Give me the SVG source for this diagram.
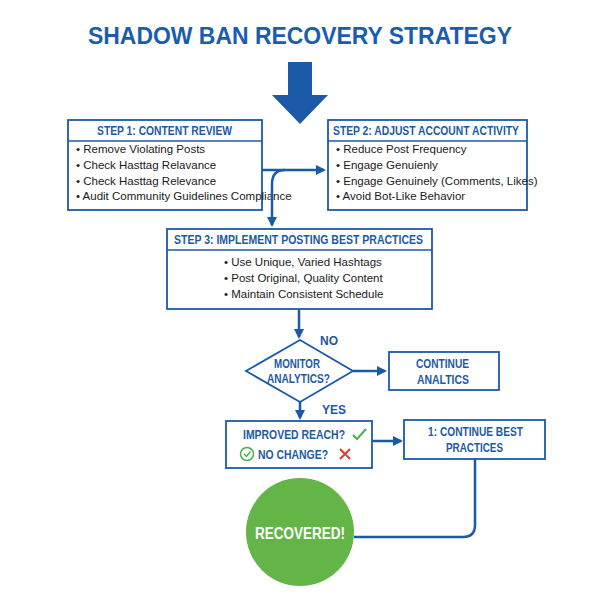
<svg xmlns="http://www.w3.org/2000/svg" width="600" height="600" viewBox="0 0 600 600">
<defs>
<style>
text{font-family:"Liberation Sans","Open Sans",sans-serif;fill:#1b5aa8}
.h{font-weight:bold;font-size:12px}
.b{font-size:11.5px;fill:#1a1a1a}
.box{fill:#fff;stroke:#1b5aa8;stroke-width:1.8}
.c{fill:none;stroke:#1b5aa8;stroke-width:2.5}
</style>
<marker id="a" viewBox="0 0 10 10" refX="8" refY="5" markerWidth="4" markerHeight="4" orient="auto"><path d="M0,0L10,5L0,10z" fill="#1b5aa8"/></marker>
</defs>
<rect width="600" height="600" fill="#fff"/>
<text x="300" y="44" text-anchor="middle" font-size="23.5" font-weight="bold" style="fill:#1a5db0" textLength="424" lengthAdjust="spacingAndGlyphs">SHADOW BAN RECOVERY STRATEGY</text>
<path d="M288,62H312V95H328L300,124L272,95H288Z" fill="#1b5aa8"/>
<g id="step1"><rect class="box" x="68" y="120" width="194" height="90"/><line x1="68" y1="141" x2="262" y2="141" stroke="#1b5aa8" stroke-width="1.5"/>
<text class="h" x="97" y="135" textLength="135" lengthAdjust="spacingAndGlyphs">STEP 1: CONTENT REVIEW</text>
<text class="b" x="76" y="153">•  Remove Violating Posts</text><text class="b" x="76" y="169">•  Check Hasttag Relavance</text><text class="b" x="76" y="185">•  Check Hasttag Relevance</text><text class="b" x="76" y="200">•  Audit Community Guidelines Compliance</text></g>
<g id="step2"><rect class="box" x="328" y="120" width="199" height="90"/><line x1="328" y1="141" x2="527" y2="141" stroke="#1b5aa8" stroke-width="1.5"/>
<text class="h" x="333" y="135" textLength="186" lengthAdjust="spacingAndGlyphs">STEP 2: ADJUST ACCOUNT ACTIVITY</text>
<text class="b" x="336" y="153">•  Reduce Post Frequency</text><text class="b" x="336" y="169">•  Engage Genuienly</text><text class="b" x="336" y="185">•  Engage Genuinely (Comments, Likes)</text><text class="b" x="336" y="200">•  Avoid Bot-Like Behavior</text></g>
<g id="step3"><rect class="box" x="167" y="229" width="265" height="80"/><line x1="167" y1="250" x2="432" y2="250" stroke="#1b5aa8" stroke-width="1.5"/>
<text class="h" x="174" y="244" textLength="249" lengthAdjust="spacingAndGlyphs">STEP 3: IMPLEMENT POSTING BEST PRACTICES</text>
<text class="b" x="224" y="266">•  Use Unique, Varied Hashtags</text><text class="b" x="224" y="282">•  Post Original, Quality Content</text><text class="b" x="224" y="298">•  Maintain Consistent Schedule</text></g>
<g id="monitor"><path d="M300,340L353,371L300,402L246,371Z" fill="#fff" stroke="#1b5aa8" stroke-width="1.8"/>
<text class="h" x="274" y="368" textLength="46" lengthAdjust="spacingAndGlyphs">MONITOR</text><text class="h" x="267" y="383" textLength="63" lengthAdjust="spacingAndGlyphs">ANALYTICS?</text></g>
<g id="contan"><rect class="box" x="389" y="352" width="110" height="38"/><text class="h" x="416" y="368" textLength="53" lengthAdjust="spacingAndGlyphs">CONTINUE</text><text class="h" x="417" y="384" textLength="52" lengthAdjust="spacingAndGlyphs">ANALTICS</text></g>
<g id="improved"><rect class="box" x="226" y="421" width="146" height="47"/>
<text class="h" x="243" y="439" textLength="102" lengthAdjust="spacingAndGlyphs">IMPROVED REACH?</text><path d="M353,435l4,4l9,-10" fill="none" stroke="#4caf50" stroke-width="2"/>
<circle cx="247" cy="454" r="6.5" fill="none" stroke="#4caf50" stroke-width="1.5"/><path d="M244,454l2.5,2.5l4,-5" fill="none" stroke="#4caf50" stroke-width="1.5"/>
<text class="h" x="258" y="459" textLength="70" lengthAdjust="spacingAndGlyphs">NO CHANGE?</text><path d="M340,449l10,10M350,449l-10,10" stroke="#e53935" stroke-width="2"/></g>
<g id="contbest"><rect class="box" x="404" y="420" width="141" height="39"/><text class="h" x="428" y="436" textLength="95" lengthAdjust="spacingAndGlyphs">1: CONTINUE BEST</text><text class="h" x="446" y="452" textLength="57" lengthAdjust="spacingAndGlyphs">PRACTICES</text></g>
<g id="recovered"><circle cx="300" cy="532" r="54" fill="#63b548"/><text x="255" y="539" font-size="16" font-weight="bold" style="fill:#fff" textLength="90" lengthAdjust="spacingAndGlyphs">RECOVERED!</text></g>
<g id="connectors">
<path class="c" d="M262,170H324" marker-end="url(#a)"/>
<path class="c" d="M285,170Q272,170 272,184V225" marker-end="url(#a)"/>
<path class="c" d="M299,309V337" marker-end="url(#a)"/>
<path class="c" d="M353,371H385" marker-end="url(#a)"/>
<path class="c" d="M300,402V418" marker-end="url(#a)"/>
<path class="c" d="M372,441H401" marker-end="url(#a)"/>
<path class="c" d="M475,459V525Q475,537 463,537H354"/>
</g>
<text class="h" x="320" y="345">NO</text>
<text class="h" x="322" y="414">YES</text>
</svg>
